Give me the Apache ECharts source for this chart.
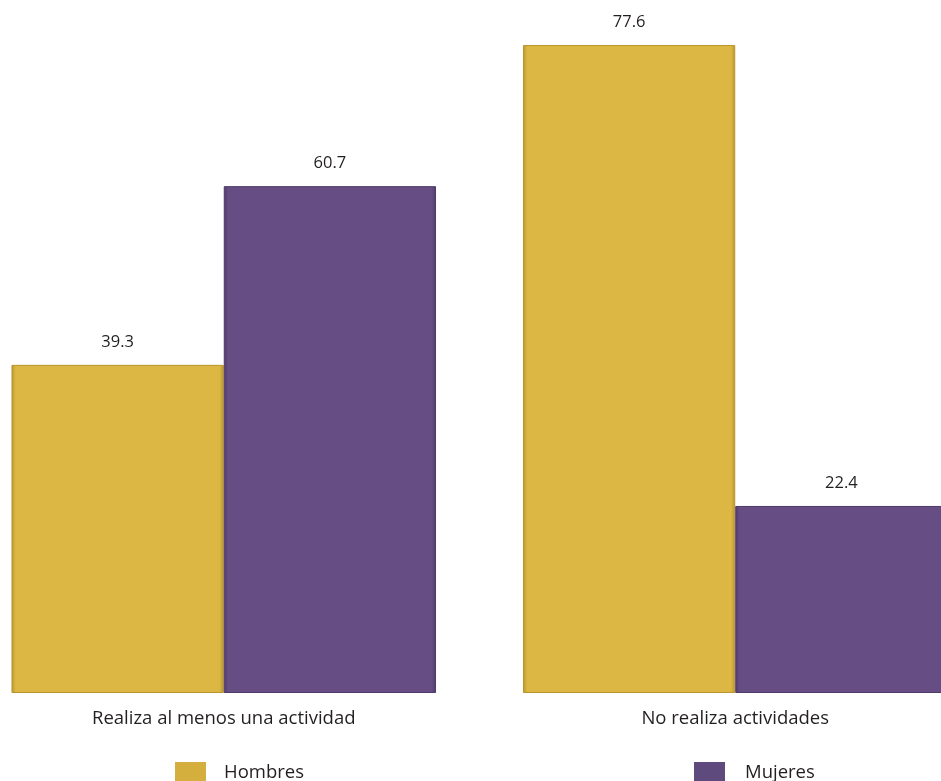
<!DOCTYPE html>
<html>
<head>
<meta charset="utf-8">
<script src="https://cdn.jsdelivr.net/npm/echarts@6/dist/echarts.min.js"></script>
<style>html,body{margin:0;padding:0;background:#fff;overflow:hidden;width:941px;height:781px;}
#wrap{position:relative;width:941px;height:781px;overflow:hidden;}
#c{position:absolute;left:-32px;top:0;width:1023px;height:781px;}</style>
</head>
<body>
<div id="wrap"><div id="c"></div></div>
<script>
const categories = ['Realiza al menos una actividad', 'No realiza actividades'];
const seriesNames = ['Hombres', 'Mujeres'];
const hombres = [39.3, 77.6];
const mujeres = [60.7, 22.4];

const chart = echarts.init(document.getElementById('c'));
const font = 'Open Sans';
function barSeries(name, data, color, border) {
  return {
    name: name,
    type: 'bar',
    data: data,
    barGap: '0%',
    barCategoryGap: '17%',
    itemStyle: {
      color: {
        type: 'linear', x: 0, y: 0, x2: 1, y2: 0,
        colorStops: [
          {offset: 0, color: border},
          {offset: 0.02, color: color},
          {offset: 0.98, color: color},
          {offset: 1, color: border}
        ]
      },
      borderColor: border,
      borderWidth: 1
    },
    label: {
      show: true,
      position: 'top',
      distance: 14,
      color: '#231f20',
      fontFamily: font,
      fontSize: 16.5,
      formatter: p => p.value.toFixed(1)
    }
  };
}
const legendBase = {itemWidth: 31, itemHeight: 22, itemGap: 0, padding: 0, icon: 'rect',
  top: 762, textStyle: {fontFamily: font, fontSize: 18.5, color: '#231f20'}};
chart.setOption({
  animation: false,
  backgroundColor: '#ffffff',
  grid: {left: 0, right: 0, top: 25, bottom: 88, containLabel: false},
  xAxis: {
    type: 'category',
    data: categories,
    axisLine: {show: false},
    axisTick: {show: false},
    axisLabel: {color: '#231f20', fontFamily: font, fontSize: 18.5, margin: 16}
  },
  yAxis: {type: 'value', min: 0, max: 80, show: false},
  legend: [
    Object.assign({}, legendBase, {data: [{name: seriesNames[0], itemStyle: {color: '#d4af3e', borderWidth: 0}}],
      left: 207, textStyle: Object.assign({}, legendBase.textStyle, {padding: [0, 0, 0, 13]})}),
    Object.assign({}, legendBase, {data: [{name: seriesNames[1], itemStyle: {color: '#5f4a7e', borderWidth: 0}}],
      left: 726, textStyle: Object.assign({}, legendBase.textStyle, {padding: [0, 0, 0, 15]})})
  ],
  series: [
    barSeries(seriesNames[0], hombres, '#dcb743', '#b8952e'),
    barSeries(seriesNames[1], mujeres, '#664d84', '#4f3a68')
  ]
});
</script>
</body>
</html>
